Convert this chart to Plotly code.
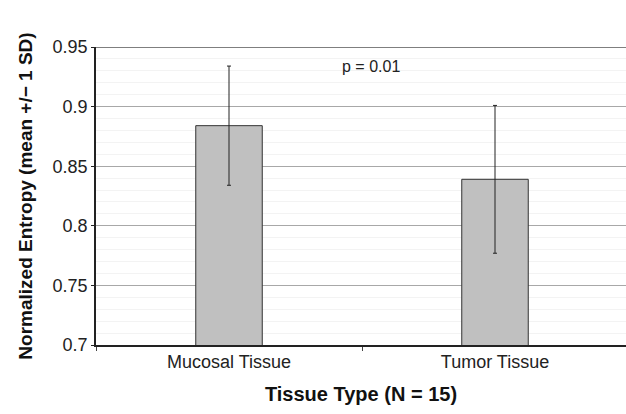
import plotly.graph_objects as go

categories = ["Mucosal Tissue", "Tumor Tissue"]
means = [0.884, 0.839]
sds = [0.050, 0.062]
y_ticks = [0.7, 0.75, 0.8, 0.85, 0.9, 0.95]
y_tick_labels = ["0.7", "0.75", "0.8", "0.85", "0.9", "0.95"]
p_text = "p = 0.01"

fig = go.Figure()
fig.add_trace(go.Bar(
    x=categories, y=means, width=0.25,
    marker=dict(color="#c0c0c0", line=dict(color="#333333", width=1)),
    error_y=dict(type="data", array=sds, visible=True, color="#222222", thickness=1, width=2),
))

font_family = "Liberation Sans, Arial, sans-serif"
fig.update_layout(
    width=626, height=414,
    margin=dict(l=96, r=0, t=47, b=69),
    paper_bgcolor="white", plot_bgcolor="white",
    showlegend=False,
    font=dict(family=font_family, color="#222222", size=14),
    xaxis=dict(
        range=[-0.5, 1.4925],
        showline=True, linecolor="#222222", linewidth=1.5,
        tickson="boundaries", ticks="outside", ticklen=4, tickcolor="#444444",
        tickfont=dict(size=18, color="#222222"),
        showgrid=False,
        title=dict(text="<b>Tissue Type (N = 15)</b>", font=dict(size=20, color="#111111"), standoff=16),
    ),
    yaxis=dict(
        range=[0.7, 0.95],
        tickvals=y_ticks, ticktext=y_tick_labels,
        showline=True, linecolor="#222222", linewidth=1.5,
        ticks="outside", ticklen=3, tickcolor="#222222",
        tickfont=dict(size=18, color="#222222"),
        showgrid=True, gridcolor="#a8a8a8", gridwidth=1,
        minor=dict(dtick=0.01, showgrid=True, gridcolor="#f3f3f3", gridwidth=1, ticks=""),
        zeroline=False,
        title=dict(text="<b>Normalized Entropy (mean +/\u2212 1 SD)</b>", font=dict(size=19, color="#111111"), standoff=15),
    ),
    shapes=[dict(type="line", xref="paper", yref="y", x0=0, x1=1, y0=0.95, y1=0.95,
                 line=dict(color="#555555", width=1.5))],
    annotations=[dict(text=p_text, x=0.5, y=0.9335, xref="x", yref="y", xanchor="left",
                      xshift=-22, showarrow=False, font=dict(size=16, color="#222222"))],
)
fig.write_html("out.html", config={"displayModeBar": False},
               post_script="document.body.style.margin='0';document.body.style.overflow='hidden';")
